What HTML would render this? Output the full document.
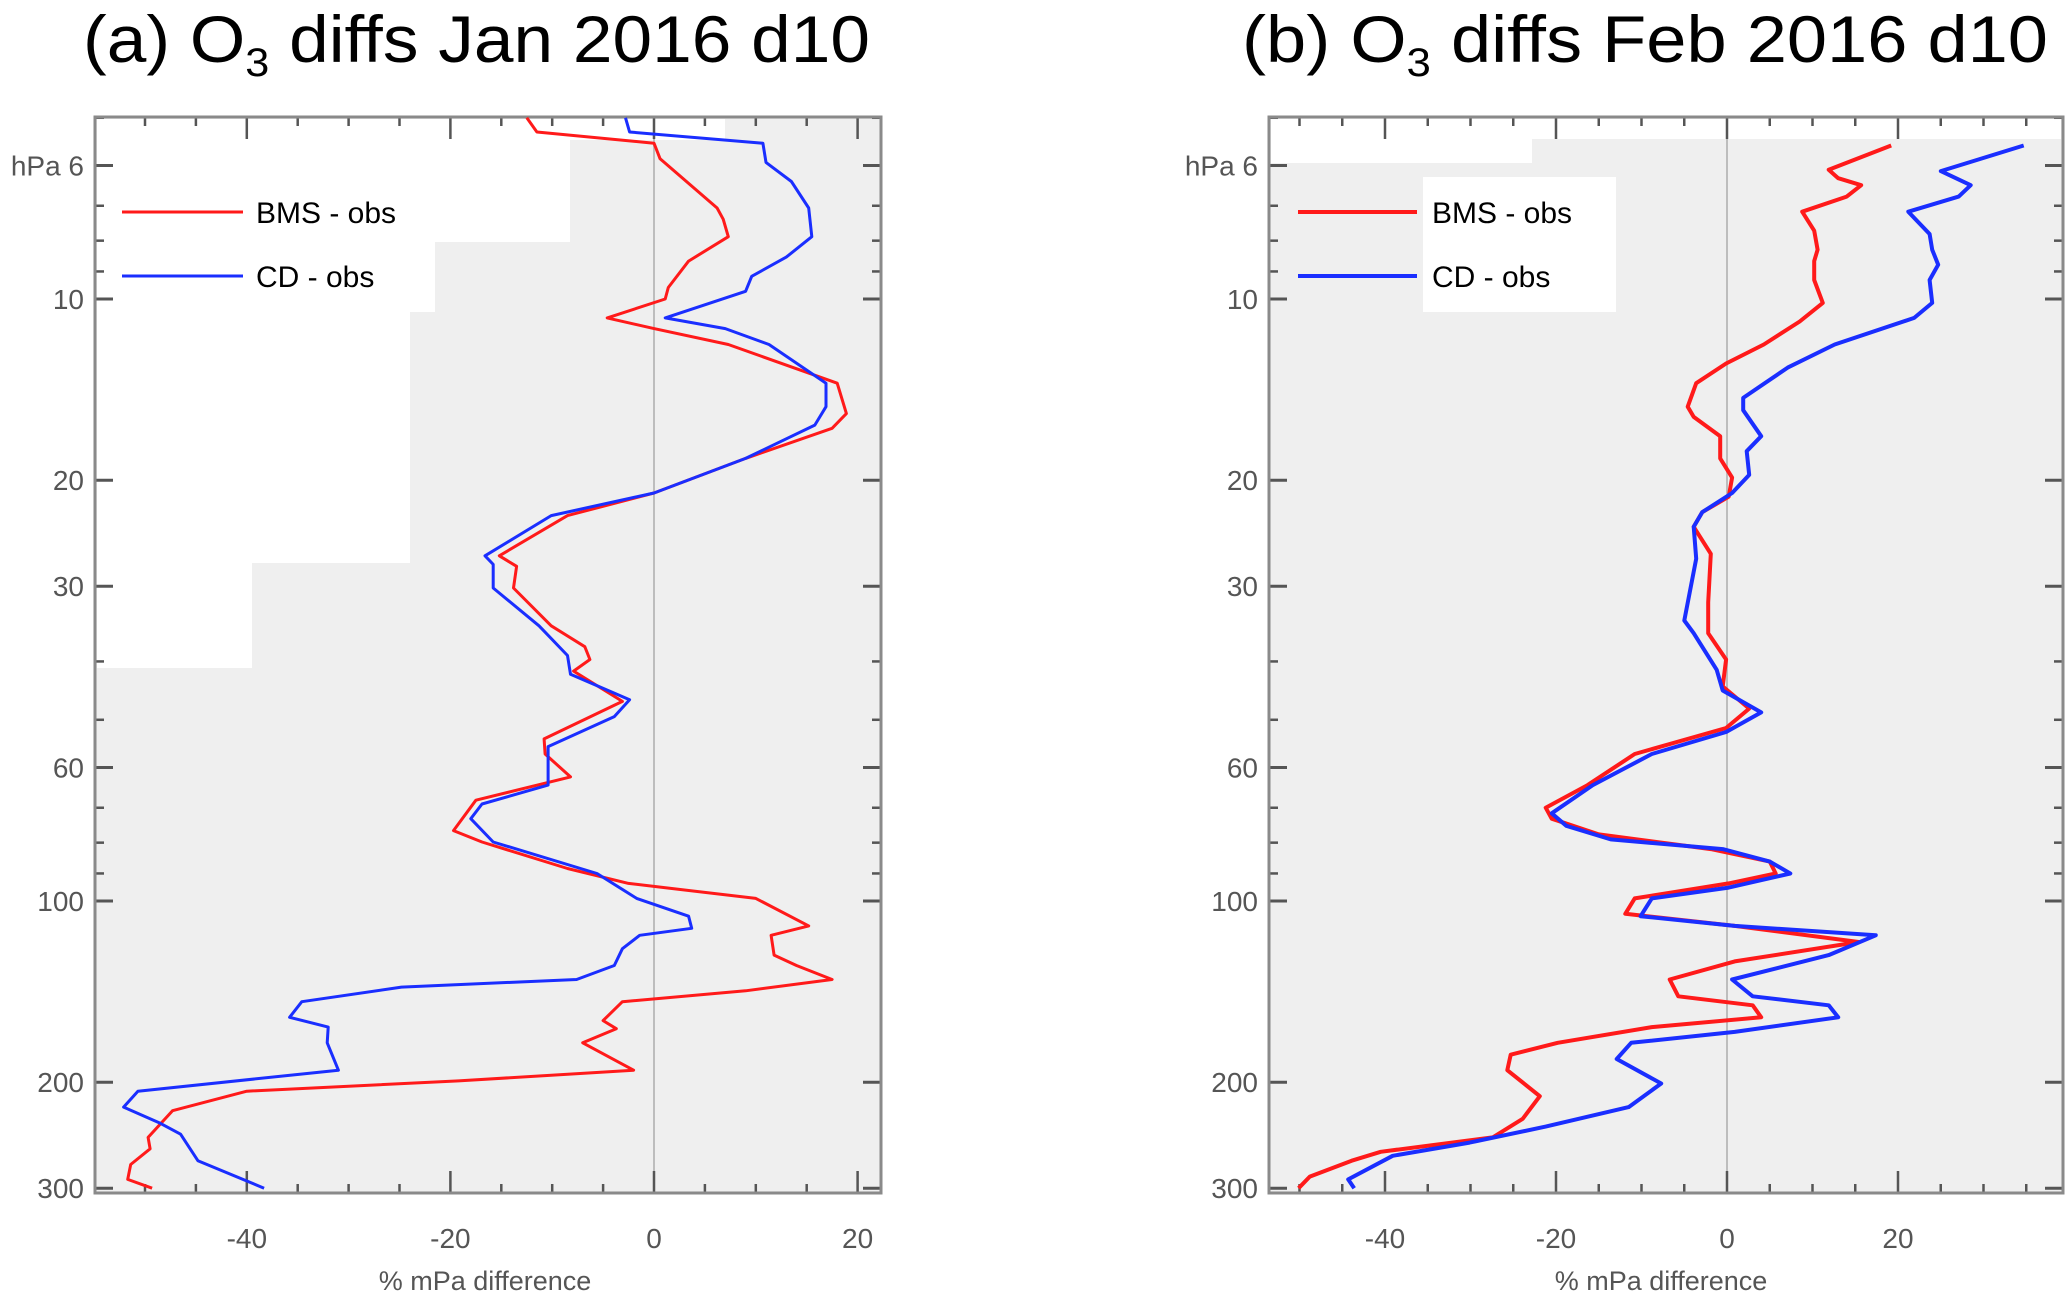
<!DOCTYPE html>
<html><head><meta charset="utf-8"><style>
html,body{margin:0;padding:0;background:#fff;}
svg{display:block;}
text{font-family:"Liberation Sans",sans-serif;}
</style></head><body>
<svg id="chart" width="2067" height="1297" viewBox="0 0 2067 1297" xmlns="http://www.w3.org/2000/svg">
<text x="83" y="62" font-size="66" fill="#000" textLength="787" lengthAdjust="spacingAndGlyphs">(a) O<tspan font-size="40" dy="14">3</tspan><tspan dy="-14"> diffs Jan 2016 d10</tspan></text>
<text x="1242" y="62" font-size="66" fill="#000" textLength="806" lengthAdjust="spacingAndGlyphs">(b) O<tspan font-size="40" dy="14">3</tspan><tspan dy="-14"> diffs Feb 2016 d10</tspan></text>
<g id="pa"></g>
<g id="pb"></g>
</svg>
<script>
// Panel (a) Jan 2016: pressure (hPa) and % difference
const presA_BMS=[5.0,5.28,5.51,5.85,7.06,7.37,7.88,8.65,9.57,10,10.75,11.2,11.9,13.8,15.5,16.4,18.4,21,22.9,26.7,27.8,30.2,34.9,37.8,39.7,41.5,46.6,53.8,57,62.2,68,76.4,79.8,88.3,93.5,99,110,114,123,128,135,141,147,158,163,172,191,199,207,223,247,258,274,290,300];
const valA_BMS=[-12.5,-11.5,0,0.6,6.2,6.8,7.3,3.4,1.4,1.1,-4.6,0,7.3,18,18.9,17.5,9,0,-8.5,-15.2,-13.5,-13.8,-10.1,-6.8,-6.3,-7.9,-3.1,-10.8,-10.7,-8.2,-17.5,-19.7,-16.9,-8.5,-2.5,10,15.2,11.5,11.8,14,17.5,9,-3.1,-5,-3.7,-7,-2,-19.2,-40,-47.3,-49.7,-49.5,-51.4,-51.7,-49.3];
const presA_CD=[5.0,5.28,5.51,5.93,6.38,7.06,7.88,8.52,9.17,9.71,10.75,11.2,11.9,13.8,15.1,16.2,18.4,21,22.9,26.7,27.6,30.2,34.9,39.1,42,46.3,49.4,55.4,64.2,69,73,79.8,90,99,106,111,114,120,128,135,139,147,156,162,172,191,207,220,234,244,270,300];
const valA_CD=[-2.8,-2.4,10.7,11,13.5,15.2,15.5,13,9.6,9,1.1,7,11.3,16.9,16.9,15.8,9,0,-10.1,-16.6,-15.8,-15.8,-11.3,-8.5,-8.2,-2.4,-3.9,-10.4,-10.4,-16.9,-18,-15.8,-5.6,-1.7,3.4,3.7,-1.4,-3.1,-3.9,-7.6,-24.8,-34.6,-35.8,-32,-32.1,-31,-50.7,-52.1,-48.5,-46.5,-44.8,-38.3];
// Panel (b) Feb 2016
const presB_BMS=[5.56,6.1,6.3,6.47,6.76,7.16,7.7,8.28,8.65,9.3,10.15,10.9,11.9,12.8,13.8,15.1,15.7,16.9,18.4,19.8,21.3,22.6,23.9,26.5,31.9,35.9,39.7,44,47.9,51.6,57,64.2,70,73,77.5,82,86,90,93.5,99,105,110,117,126,135,144,149,156,162,172,180,191,211,230,247,261,270,287,300];
const valB_BMS=[19.2,11.9,13,15.7,14,8.8,10.2,10.6,10.2,10.2,11.2,8.5,4.3,-0.1,-3.6,-4.6,-3.9,-0.8,-0.8,0.6,0.2,-2.9,-3.9,-1.9,-2.2,-2.2,-0.1,-0.5,2.6,-0.1,-10.8,-16.3,-21.2,-20.5,-15,-1.9,5,5.7,0.2,-10.8,-11.9,0.9,15.4,0.9,-6.7,-5.7,3,4,-8.8,-19.8,-25.3,-25.7,-21.9,-23.9,-27.4,-40.5,-43.9,-48.8,-50.1];
const presB_CD=[5.56,6.13,6.47,6.76,7.16,7.8,8.28,8.77,9.3,10.15,10.75,11.9,13,14.6,15.3,16.9,17.9,19.6,21,22.6,23.9,27,34.2,35.9,41.3,44.7,48.6,52.4,57,64.2,71.5,75,79,82,86,90,95,99,106,110,114,123,135,144,149,156,165,172,183,201,220,237,252,265,290,300];
const valB_CD=[34.7,25,28.5,27.1,21.2,23.7,24,24.7,23.7,24,21.9,12.6,7.1,1.9,1.9,4,2.3,2.6,0.6,-2.9,-3.9,-3.6,-5,-3.9,-1.2,-0.5,4,-0.1,-8.8,-15.7,-20.5,-18.8,-13.6,-0.5,5,7.4,0.2,-8.8,-10.1,0.9,17.4,11.9,0.6,3,11.9,13,0.9,-11.2,-12.9,-7.7,-11.5,-21.2,-30.1,-39.1,-44.3,-43.6];
const xTicks=[-40,-20,0,20];
const yTicks=[6,10,20,30,60,100,200,300];
const yTickLabels=["hPa 6","10","20","30","60","100","200","300"];
const yMinor=[5,7,8,9,40,50,70,80,90];

const NS="http://www.w3.org/2000/svg";
function mk(parent,tag,attrs){const e=document.createElementNS(NS,tag);for(const k in attrs)e.setAttribute(k,attrs[k]);parent.appendChild(e);return e;}
const TOP=117,BOT=1193;
function yScale(p){return 299+602*Math.log10(p/10);}

function panel(g,cfg){
  const xs=v=>cfg.x0+v*cfg.k;
  const L=cfg.left,R=cfg.right;
  const bg=mk(g,'rect',{x:L,y:TOP,width:R-L,height:BOT-TOP,fill:'#efefef'});
  
  
  cfg.white.forEach(w=>{const r=mk(g,'rect',{x:w[0],y:w[1],width:w[2]-w[0],height:w[3]-w[1],fill:'#fff'});
    
    });
  const z=mk(g,'line',{x1:xs(0),x2:xs(0),y1:TOP,y2:BOT,stroke:'#bdbdbd','stroke-width':2});
  
  
  for(let v=-60;v<=40;v+=5){const x=xs(v);if(x<L+2||x>R-2)continue;const major=v%20===0;const len=major?22:9;
    mk(g,'line',{x1:x,x2:x,y1:BOT,y2:BOT-len,stroke:'#555','stroke-width':2.5});
    mk(g,'line',{x1:x,x2:x,y1:TOP,y2:TOP+len,stroke:'#555','stroke-width':2.5});}
  xTicks.forEach(v=>{const t=mk(g,'text',{x:xs(v),y:1248,'font-size':28,fill:'#555','text-anchor':'middle'});t.textContent=String(v);
    
    });
  const xt=mk(g,'text',{x:cfg.titleX,y:1290,'font-size':27,fill:'#555','text-anchor':'middle'});xt.textContent='% mPa difference';
  
  
  yTicks.forEach((p,i)=>{const y=yScale(p);
    mk(g,'line',{x1:L,x2:L+18,y1:y,y2:y,stroke:'#555','stroke-width':3});
    mk(g,'line',{x1:R,x2:R-18,y1:y,y2:y,stroke:'#555','stroke-width':3});
    const t=mk(g,'text',{x:L-11,y:y+10,'font-size':28,fill:'#555','text-anchor':'end'});t.textContent=yTickLabels[i];
    
    });
  yMinor.forEach(p=>{const y=yScale(p);if(y<TOP)return;
    mk(g,'line',{x1:L,x2:L+9,y1:y,y2:y,stroke:'#555','stroke-width':2.5});
    mk(g,'line',{x1:R,x2:R-9,y1:y,y2:y,stroke:'#555','stroke-width':2.5});});
  const fr=mk(g,'rect',{x:L,y:TOP,width:R-L,height:BOT-TOP,fill:'none',stroke:'#8a8a8a','stroke-width':3});
  
  
  const series=[[cfg.pB,cfg.vB,'#ff1a1a','bms-obs-line'],[cfg.pC,cfg.vC,'#1a2eff','cd-obs-line']];
  series.forEach(s=>{const pts=s[0].map((p,i)=>xs(s[1][i]).toFixed(1)+','+yScale(p).toFixed(1)).join(' ');
    const pl=mk(g,'polyline',{points:pts,fill:'none',stroke:s[2],'stroke-width':cfg.lw,'stroke-linejoin':'round'});
    
    });
  const lg=[['BMS - obs','#ff1a1a',212],['CD - obs','#1a2eff',276]];
  lg.forEach(l=>{mk(g,'line',{x1:cfg.legX1,x2:cfg.legX2,y1:l[2],y2:l[2],stroke:l[1],'stroke-width':cfg.lw});
    const t=mk(g,'text',{x:cfg.legTX,y:l[2]+11,'font-size':30,fill:'#000'});t.textContent=l[0];
    
    });
}
panel(document.getElementById('pa'),{x0:654,k:10.18,left:95,right:881,titleX:485,lw:3,
  pB:presA_BMS,vB:valA_BMS,pC:presA_CD,vC:valA_CD,legX1:122,legX2:243,legTX:256,
  white:[[97,119,570,242],[97,119,725,140],[97,119,435,312],[97,119,410,563],[97,119,252,668]]});
panel(document.getElementById('pb'),{x0:1727,k:8.55,left:1269,right:2063,titleX:1661,lw:4,
  pB:presB_BMS,vB:valB_BMS,pC:presB_CD,vC:valB_CD,legX1:1298,legX2:1417,legTX:1432,
  white:[[1271,119,2061,139],[1271,119,1532,163],[1423,177,1616,312]]});
</script>
</body></html>
